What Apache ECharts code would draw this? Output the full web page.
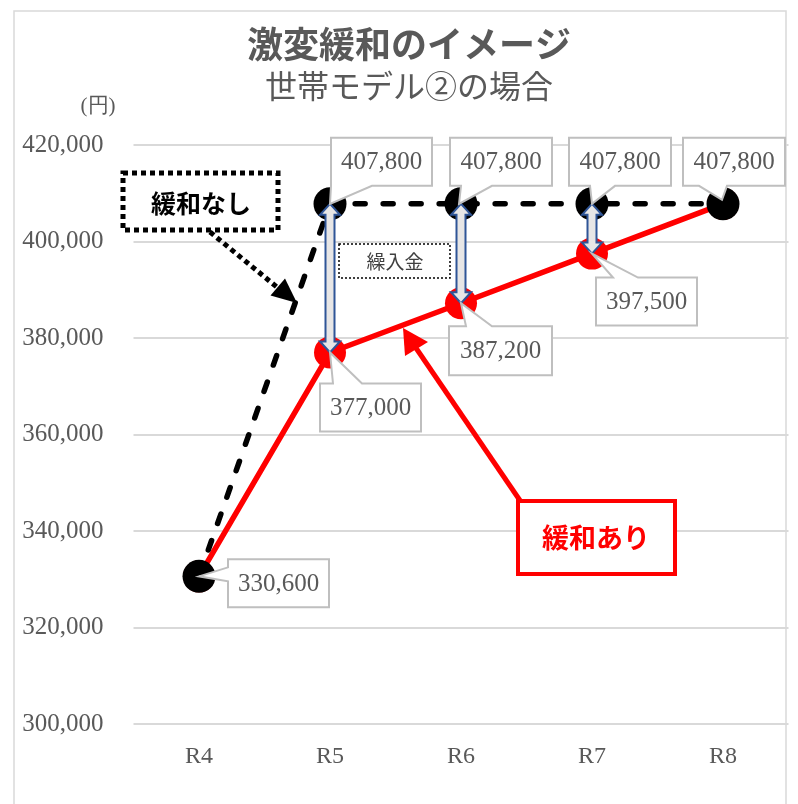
<!DOCTYPE html>
<html><head><meta charset="utf-8">
<script src="https://cdn.jsdelivr.net/npm/echarts@6/dist/echarts.min.js"></script>
<style>html,body{margin:0;padding:0;background:#fff}#c{width:798px;height:804px}</style>
</head><body><div id="c"></div>
<script>
const categories = ['R4', 'R5', 'R6', 'R7', 'R8'];
const noRelief = [330600, 407800, 407800, 407800, 407800];   // 緩和なし
const withRelief = [330600, 377000, 387200, 397500, 407800]; // 緩和あり
const yMin = 300000, yMax = 420000, yStep = 20000;
const titleText = '激変緩和のイメージ';
const subText = '世帯モデル②の場合';
const unitText = '(円)';

const GRAY = '#595959';
const chart = echarts.init(document.getElementById('c'), null, {renderer: 'canvas'});
const serif = '"Liberation Serif", "DejaVu Serif", serif';
const jp = '"Noto Sans CJK JP", sans-serif';

chart.setOption({
  animation: false,
  title: {
    text: titleText, subtext: subText, left: 404, textAlign: 'center', top: 21, itemGap: 8,
    textStyle: {fontFamily: jp, fontSize: 36, fontWeight: 'bold', color: GRAY},
    subtextStyle: {fontFamily: jp, fontSize: 32, color: GRAY}
  },
  grid: {left: 133.5, right: 9.5, top: 145, bottom: 80},
  xAxis: {
    type: 'category', data: categories, boundaryGap: true,
    axisLine: {show: false}, axisTick: {show: false},
    axisLabel: {fontFamily: serif, fontSize: 24, color: GRAY, margin: 21}
  },
  yAxis: {
    type: 'value', min: yMin, max: yMax, interval: yStep,
    axisLine: {show: false}, axisTick: {show: false},
    splitLine: {lineStyle: {color: '#d9d9d9', width: 2}},
    axisLabel: {fontFamily: serif, fontSize: 25, color: GRAY, margin: 30,
      formatter: v => v.toLocaleString('en-US')}
  },
  series: [
    {name: '緩和あり', type: 'line', data: withRelief, symbol: 'circle', symbolSize: 32,
      itemStyle: {color: '#ff0000'}, lineStyle: {color: '#ff0000', width: 5.5}, z: 2},
    {name: '緩和なし', type: 'line', data: noRelief, symbol: 'circle', symbolSize: 33,
      itemStyle: {color: '#000000'}, lineStyle: {color: '#000000', width: 5.5, type: [10, 18], cap: 'round'}, z: 3}
  ]
});

// annotations
const px = (i, v) => chart.convertToPixel({gridIndex: 0}, [i, v]);
const g = [];
// frame
g.push({type: 'rect', shape: {x: 14, y: 11, width: 772, height: 810}, style: {fill: 'none', stroke: '#d9d9d9', lineWidth: 1.5}, z: 1, silent: true});
// unit
g.push({type: 'text', style: {text: unitText, x: 98, y: 106, textAlign: 'center', textVerticalAlign: 'middle', font: '21px ' + serif, fill: GRAY}, z: 10});

// double arrows between series (R5..R7)
[1, 2, 3].forEach(i => {
  const a = px(i, noRelief[i]), b = px(i, withRelief[i]);
  const x = a[0], yt = a[1], yb = b[1], hw = 10, sw = 4.5, hl = 11;
  g.push({type: 'polygon', shape: {points: [
    [x, yt], [x + hw, yt + hl], [x + sw, yt + hl], [x + sw, yb - hl], [x + hw, yb - hl], [x, yb],
    [x - hw, yb - hl], [x - sw, yb - hl], [x - sw, yt + hl], [x - hw, yt + hl]]},
    style: {fill: '#e7e6e6', stroke: '#2f5597', lineWidth: 2}, z: 20});
});

// callouts
const callouts = [
  {vals: noRelief, i: 0, box: [29, -17, 130, 31], edge: 'left', base: [-9, 5], tip: [0, 0]},
  {vals: noRelief, i: 1, box: [1, -66, 102, -18], edge: 'bottom', base: [1, 42], tip: [0, 0]},
  {vals: noRelief, i: 2, box: [-11, -66, 91, -18], edge: 'bottom', base: [0, 31], tip: [-2, 0]},
  {vals: noRelief, i: 3, box: [-23, -66, 79, -18], edge: 'bottom', base: [-2, 23], tip: [0, 0]},
  {vals: noRelief, i: 4, box: [-40, -66, 62, -18], edge: 'bottom', base: [-24, 4], tip: [-1, -4]},
  {vals: withRelief, i: 1, box: [-10, 31, 91, 79], edge: 'top', base: [3, 32], tip: [0, 0]},
  {vals: withRelief, i: 2, box: [-12, 23, 91, 72], edge: 'top', base: [5, 31], tip: [0, 0]},
  {vals: withRelief, i: 3, box: [4, 24, 105, 72], edge: 'top', base: [21, 46], tip: [0, 0]}
];
callouts.forEach(c => {
  const p = px(c.i, c.vals[c.i]);
  const [x0, y0, x1, y1] = [p[0] + c.box[0], p[1] + c.box[1], p[0] + c.box[2], p[1] + c.box[3]];
  const t = [p[0] + c.tip[0], p[1] + c.tip[1]];
  let pts;
  if (c.edge === 'bottom') {
    const a = p[0] + c.base[0], b = p[0] + c.base[1];
    pts = [[x0, y0], [x1, y0], [x1, y1], [b, y1], t, [a, y1], [x0, y1]];
  } else if (c.edge === 'top') {
    const a = p[0] + c.base[0], b = p[0] + c.base[1];
    pts = [[x0, y0], [a, y0], t, [b, y0], [x1, y0], [x1, y1], [x0, y1]];
  } else {
    const a = p[1] + c.base[0], b = p[1] + c.base[1];
    pts = [[x0, y0], [x1, y0], [x1, y1], [x0, y1], [x0, b], t, [x0, a]];
  }
  g.push({type: 'polygon', shape: {points: pts}, style: {fill: '#fff', stroke: '#bfbfbf', lineWidth: 2}, z: 30});
  g.push({type: 'text', style: {text: c.vals[c.i].toLocaleString('en-US'), x: (x0 + x1) / 2, y: (y0 + y1) / 2 + 1,
    textAlign: 'center', textVerticalAlign: 'middle', font: '25px ' + serif, fill: GRAY}, z: 31});
});

// 繰入金 label
g.push({type: 'rect', shape: {x: 339, y: 244, width: 111, height: 34}, style: {fill: '#fff', stroke: '#000', lineWidth: 1.5, lineDash: [2, 2]}, z: 25});
g.push({type: 'text', style: {text: '繰入金', x: 395, y: 262, textAlign: 'center', textVerticalAlign: 'middle', font: '19px ' + jp, fill: '#404040'}, z: 26});

// 緩和なし label + dotted arrow
g.push({type: 'polyline', shape: {points: [[210, 232], [278, 288]]}, style: {stroke: '#000', lineWidth: 5, lineDash: [5, 4], fill: 'none'}, z: 25});
g.push({type: 'polygon', shape: {points: [[297, 303], [270.5, 295.5], [285, 278.5]]}, style: {fill: '#000'}, z: 25});
g.push({type: 'rect', shape: {x: 123, y: 173, width: 155, height: 57}, style: {fill: '#fff', stroke: '#000', lineWidth: 5, lineDash: [5, 4]}, z: 26});
g.push({type: 'text', style: {text: '緩和なし', x: 201, y: 203, textAlign: 'center', textVerticalAlign: 'middle', font: 'bold 25px ' + jp, fill: '#000'}, z: 27});

// 緩和あり label + red arrow
g.push({type: 'polyline', shape: {points: [[521, 502], [416, 348]]}, style: {stroke: '#ff0000', lineWidth: 5, fill: 'none'}, z: 25});
g.push({type: 'polygon', shape: {points: [[403, 328], [405, 356], [428, 342]]}, style: {fill: '#ff0000'}, z: 25});
g.push({type: 'rect', shape: {x: 518, y: 501, width: 157, height: 73}, style: {fill: '#fff', stroke: '#ff0000', lineWidth: 4}, z: 26});
g.push({type: 'text', style: {text: '緩和あり', x: 596, y: 538, textAlign: 'center', textVerticalAlign: 'middle', font: 'bold 27px ' + jp, fill: '#ff0000'}, z: 27});

chart.setOption({graphic: {elements: g}});
</script></body></html>
